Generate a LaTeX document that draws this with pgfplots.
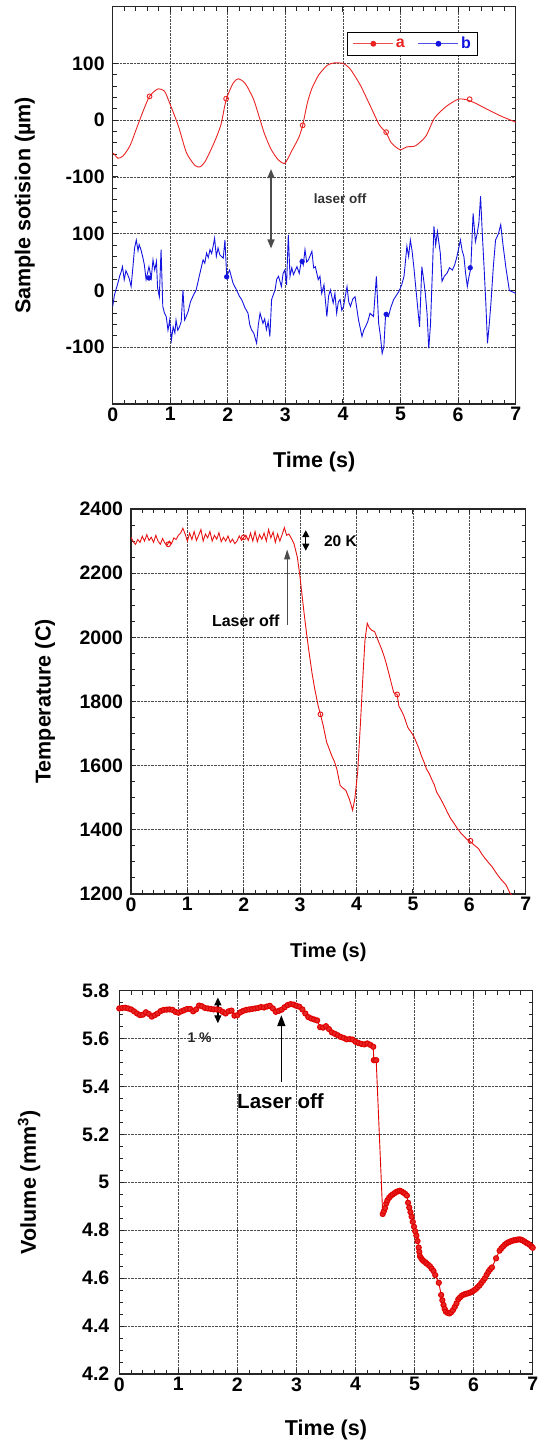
\documentclass[border=0pt]{standalone}
\usepackage{fontspec}
\setmainfont{Liberation Sans}
\usepackage{pgfplots}
\usepackage{pgfplotstable}
\pgfplotsset{compat=1.18}
\usetikzlibrary{arrows.meta}

\definecolor{cA}{RGB}{235,35,35}
\definecolor{cB}{RGB}{20,20,225}
\definecolor{cT}{RGB}{232,20,20}
\definecolor{cV}{RGB}{225,0,0}

\pgfplotsset{
  panel/.style={
    scale only axis,
    xmin=0, xmax=7, xtick={0,1,...,7}, minor x tick num=4,
    grid=major,
    major grid style={black!70, densely dotted, line width=0.7pt},
    axis line style={black!85, line width=1.2pt},
    tick style={black!85, line width=1pt},
    major tick length=5pt, minor tick length=4pt,
    /pgf/number format/assume math mode=true,
    /pgf/number format/1000 sep={},
    tick label style={font=\bfseries\fontsize{19.5}{20}\selectfont},
    yticklabel style={xshift=-4.5pt},
    label style={font=\bfseries\fontsize{21.5}{22}\selectfont},
    xlabel style={at={(axis description cs:0.5,-0.147)}, anchor=center},
    ylabel style={at={(axis description cs:-0.218,0.5)}, anchor=center},
    xlabel={Time (s)},
  },
  legend image code/.code={
    \draw[mark repeat=2,mark phase=2,#1] plot coordinates {(0pt,0pt) (20pt,0pt) (40pt,0pt)};
  },
}

\pgfplotstableread{
t b
0.00 -28
0.03 -8
0.09 13
0.12 25
0.15 34
0.17 42
0.20 19
0.23 35
0.26 28
0.29 20
0.32 7
0.35 40
0.38 75
0.41 89
0.44 70
0.46 81
0.49 72
0.52 60
0.55 45
0.58 19
0.63 42
0.67 22
0.70 54
0.73 36
0.76 51
0.78 4
0.81 -11
0.84 72
0.87 -28
0.90 -40
0.93 -46
0.96 -70
0.99 -52
1.02 -87
1.05 -64
1.08 -75
1.10 -52
1.13 -70
1.16 -64
1.19 -55
1.22 1
1.25 -52
1.28 -45
1.31 -37
1.35 -20
1.39 -11
1.45 1
1.51 28
1.57 54
1.60 48
1.63 66
1.66 58
1.69 72
1.72 65
1.77 92
1.80 60
1.83 75
1.86 63
1.92 57
1.95 89
1.98 25
2.03 36
2.09 13
2.15 1
2.20 -10
2.24 -16
2.30 -31
2.35 -40
2.38 -60
2.41 -69
2.45 -75
2.50 -93
2.53 -60
2.56 -40
2.61 -58
2.64 -50
2.67 -69
2.70 -55
2.73 -81
2.76 -16
2.82 1
2.85 20
2.88 25
2.93 7
2.96 30
2.99 36
3.02 10
3.05 98
3.08 25
3.11 40
3.14 28
3.17 35
3.20 42
3.24 30
3.28 54
3.31 45
3.34 72
3.37 50
3.40 54
3.46 69
3.49 40
3.52 42
3.57 19
3.60 25
3.63 -5
3.67 10
3.72 -46
3.75 -10
3.78 1
3.83 -22
3.86 -5
3.89 -40
3.92 -20
3.95 -16
3.98 -35
4.01 -28
4.04 -10
4.07 7
4.10 -20
4.13 -28
4.17 -15
4.21 -11
4.27 -52
4.33 -81
4.36 -70
4.39 -64
4.43 -55
4.47 -40
4.53 -46
4.58 25
4.62 -58
4.65 -80
4.68 -111
4.71 -99
4.74 -43
4.79 -46
4.83 -30
4.88 -16
4.97 -2
5.02 10
5.06 25
5.11 78
5.14 60
5.17 89
5.20 70
5.23 42
5.26 10
5.29 -22
5.33 -64
5.37 42
5.40 20
5.43 -5
5.46 -40
5.49 -102
5.52 -60
5.55 25
5.58 113
5.61 80
5.64 104
5.69 66
5.72 16
5.76 25
5.81 31
5.85 40
5.90 36
5.94 45
5.98 60
6.04 89
6.07 70
6.10 60
6.13 30
6.16 7
6.19 25
6.22 39
6.26 136
6.30 86
6.33 100
6.36 119
6.39 166
6.42 100
6.45 42
6.48 -20
6.51 -93
6.54 -60
6.57 -22
6.61 40
6.65 89
6.70 100
6.74 116
6.78 80
6.83 40
6.89 0
7.00 -5
}\dataB

\pgfplotstableread{
t b
0.63 22
1.98 24
3.29 51
4.75 -42
6.21 40
}\markB

\pgfplotstableread{
t T
0.00 2312
0.04 2298
0.08 2290
0.12 2305
0.16 2296
0.20 2315
0.24 2300
0.28 2320
0.32 2302
0.36 2312
0.40 2296
0.44 2318
0.48 2300
0.52 2290
0.56 2308
0.60 2294
0.64 2287
0.68 2300
0.72 2292
0.76 2310
0.80 2305
0.84 2318
0.88 2325
0.92 2340
0.96 2322
1.00 2300
1.04 2325
1.08 2305
1.12 2330
1.16 2302
1.20 2318
1.24 2336
1.28 2300
1.32 2322
1.36 2310
1.40 2330
1.44 2300
1.48 2318
1.52 2306
1.56 2326
1.60 2298
1.64 2312
1.68 2300
1.72 2316
1.76 2296
1.80 2306
1.84 2292
1.88 2300
1.92 2316
1.96 2302
2.00 2312
2.04 2318
2.08 2302
2.12 2325
2.16 2300
2.20 2330
2.24 2298
2.28 2320
2.32 2306
2.36 2325
2.40 2300
2.44 2336
2.48 2310
2.52 2328
2.56 2296
2.60 2322
2.64 2300
2.68 2320
2.72 2342
2.76 2318
2.80 2322
2.84 2310
2.89 2292
2.95 2250
2.99 2199
3.03 2137
3.07 2075
3.12 2003
3.16 1951
3.21 1889
3.26 1838
3.32 1786
3.36 1760
3.41 1724
3.47 1673
3.52 1650
3.56 1631
3.61 1612
3.65 1590
3.71 1538
3.76 1530
3.81 1523
3.87 1497
3.90 1480
3.93 1461
3.97 1497
4.02 1580
4.07 1734
4.11 1869
4.15 1992
4.19 2044
4.21 2036
4.23 2029
4.27 2022
4.32 2018
4.39 1987
4.45 1961
4.50 1935
4.54 1910
4.60 1869
4.66 1827
4.72 1822
4.75 1786
4.80 1770
4.84 1755
4.91 1719
4.97 1704
5.02 1690
5.06 1673
5.11 1652
5.15 1631
5.20 1610
5.24 1590
5.29 1575
5.33 1559
5.38 1540
5.42 1518
5.48 1500
5.55 1477
5.61 1455
5.67 1435
5.73 1420
5.79 1404
5.85 1390
5.91 1379
5.96 1370
6.02 1363
6.09 1352
6.16 1342
6.22 1325
6.28 1311
6.34 1298
6.40 1286
6.46 1270
6.52 1255
6.58 1242
6.65 1229
6.72 1203
6.76 1195
}\dataT

\pgfplotstableread{
t V
0.00 5.726
0.05 5.728
0.10 5.729
0.15 5.726
0.20 5.722
0.25 5.714
0.30 5.705
0.35 5.698
0.40 5.700
0.45 5.710
0.50 5.703
0.55 5.692
0.60 5.698
0.65 5.705
0.70 5.715
0.75 5.720
0.80 5.721
0.85 5.722
0.90 5.720
0.95 5.712
1.00 5.708
1.05 5.714
1.10 5.719
1.15 5.724
1.20 5.724
1.25 5.714
1.30 5.722
1.35 5.738
1.40 5.735
1.45 5.728
1.50 5.726
1.55 5.724
1.60 5.722
1.65 5.722
1.70 5.720
1.75 5.712
1.80 5.705
1.85 5.714
1.90 5.717
1.95 5.696
2.00 5.698
2.05 5.710
2.10 5.716
2.15 5.720
2.20 5.722
2.25 5.724
2.30 5.726
2.35 5.728
2.40 5.732
2.45 5.730
2.50 5.734
2.55 5.737
2.60 5.726
2.65 5.712
2.70 5.716
2.75 5.721
2.80 5.731
2.85 5.740
2.90 5.744
2.95 5.742
3.00 5.737
3.05 5.733
3.10 5.722
3.15 5.705
3.20 5.690
3.25 5.684
3.30 5.680
3.35 5.676
3.40 5.648
3.45 5.646
3.50 5.652
3.55 5.640
3.60 5.626
3.65 5.620
3.70 5.614
3.75 5.607
3.80 5.603
3.85 5.597
3.90 5.598
3.95 5.596
4.00 5.587
4.05 5.582
4.10 5.578
4.15 5.576
4.20 5.580
4.25 5.574
4.30 5.566
4.31 5.510
4.35 5.510
4.46 4.868
4.48 4.880
4.50 4.893
4.52 4.912
4.54 4.925
4.57 4.936
4.60 4.944
4.63 4.950
4.66 4.955
4.69 4.960
4.72 4.963
4.75 4.965
4.78 4.962
4.81 4.957
4.84 4.952
4.87 4.945
4.89 4.915
4.91 4.895
4.93 4.876
4.95 4.857
4.97 4.835
4.99 4.815
5.01 4.796
5.03 4.778
5.05 4.755
5.07 4.728
5.08 4.710
5.09 4.692
5.11 4.684
5.13 4.677
5.15 4.672
5.18 4.667
5.20 4.662
5.23 4.656
5.26 4.650
5.29 4.640
5.32 4.630
5.35 4.613
5.41 4.581
5.45 4.530
5.47 4.508
5.49 4.488
5.51 4.472
5.53 4.460
5.56 4.455
5.59 4.453
5.62 4.458
5.65 4.467
5.68 4.480
5.71 4.495
5.74 4.512
5.77 4.520
5.80 4.527
5.83 4.531
5.86 4.534
5.89 4.536
5.92 4.538
5.95 4.541
5.98 4.545
6.01 4.550
6.04 4.555
6.07 4.563
6.10 4.570
6.13 4.580
6.16 4.590
6.19 4.600
6.22 4.614
6.25 4.627
6.28 4.637
6.31 4.645
6.38 4.683
6.44 4.715
6.47 4.725
6.50 4.733
6.53 4.740
6.56 4.746
6.59 4.750
6.62 4.753
6.65 4.756
6.68 4.758
6.71 4.759
6.74 4.761
6.77 4.762
6.80 4.761
6.83 4.758
6.86 4.753
6.89 4.748
6.92 4.744
6.95 4.739
6.98 4.732
7.00 4.727
}\dataV

\begin{document}
\begin{tikzpicture}
\path[use as bounding box] (0pt,0pt) rectangle (539pt,-1443pt);

% ---- panel 1: sample position, b shifted down by 300
\begin{axis}[panel,
  at={(112.7pt,-404pt)}, anchor=south west,
  width=403pt, height=397.3pt,
  ymin=-500, ymax=200,
  ytick={-400,-300,-200,-100,0,100},
  yticklabels={-100,0,100,-100,0,100},
  minor y tick num=4,
  ylabel={Sample sotision (µm)},
  legend style={at={(rel axis cs:0.582,0.937)}, anchor=north west,
    draw=black, line width=1pt, fill=white, inner xsep=5pt, inner ysep=3pt,
    font=\bfseries\fontsize{16}{16}\selectfont, legend columns=2,
    /tikz/every even column/.append style={column sep=11pt}},
]
\addlegendimage{cA!80, line width=1.2pt, mark=*, mark size=2.3pt, mark options={solid, fill=cA, draw=cA}}
\addlegendentry{\textcolor{cA}{a}}
\addlegendimage{cB!75, line width=1.2pt, mark=*, mark size=2.3pt, mark options={solid, fill=cB, draw=cB}}
\addlegendentry{\textcolor{cB}{b}}

\addplot[cA, line width=0.9pt, smooth, tension=0.4, forget plot] coordinates {
(0.00,-58) (0.03,-60) (0.09,-67) (0.18,-63) (0.30,-45) (0.42,-13) (0.54,19)
(0.64,42) (0.78,55) (0.90,51) (0.99,30) (1.14,-10) (1.28,-57) (1.43,-80)
(1.52,-82) (1.61,-72) (1.76,-40) (1.88,-8) (1.97,36) (2.09,65) (2.18,73)
(2.30,65) (2.45,36) (2.63,-22) (2.75,-51) (2.87,-69) (2.99,-76) (3.11,-54)
(3.23,-31) (3.30,-9) (3.38,30) (3.46,56) (3.58,80) (3.73,97) (3.85,101)
(4.00,100) (4.12,91) (4.30,62) (4.48,24) (4.63,-8) (4.75,-22) (4.84,-40)
(4.99,-52) (5.11,-47) (5.26,-45) (5.44,-28) (5.59,4) (5.79,24) (6.00,37)
(6.15,36) (6.30,30) (6.51,19) (6.75,7) (6.99,-3) (7.00,-4)
};
\addplot[only marks, mark=o, mark size=2.4pt, cA, line width=0.9pt, forget plot] coordinates {
(0.64,42) (1.97,38) (3.30,-9) (4.75,-21) (6.20,37)
};
\addplot[cB, line width=0.9pt, forget plot] table[x=t, y expr=\thisrow{b}-300] {\dataB};
\addplot[only marks, mark=*, mark size=2.4pt, cB, forget plot] table[x=t, y expr=\thisrow{b}-300] {\markB};
\draw[{Triangle[width=7pt,length=9pt]}-{Triangle[width=7pt,length=9pt]}, black!70, line width=1.5pt]
  (axis cs:2.75,-86) -- (axis cs:2.75,-226);
\node[font=\bfseries\fontsize{13.5}{14}\selectfont, text=black!80] at (axis cs:3.95,-137.6) {laser off};
\end{axis}

% ---- panel 2: temperature
\begin{axis}[panel,
  at={(131pt,-894pt)}, anchor=south west,
  width=394.7pt, height=385pt,
  ymin=1200, ymax=2400,
  ytick={1200,1400,...,2400},
  minor y tick num=3,
  ylabel={Temperature (C)},
  xlabel style={font=\bfseries\fontsize{20}{21}\selectfont, at={(axis description cs:0.5,-0.151)}},
]
\addplot[cT, line width=0.9pt] table[x=t, y=T] {\dataT};
\addplot[only marks, mark=o, mark size=2.4pt, cT, line width=0.9pt] coordinates {
(0.66,2290) (2.00,2312) (3.36,1760) (4.72,1822) (6.02,1366)
};
\draw[-{Triangle[width=6pt,length=10pt]}, black!70, line width=1.3pt]
  (axis cs:2.77,2038) -- (axis cs:2.77,2274);
\node[font=\bfseries\fontsize{16}{17}\selectfont] at (axis cs:2.036,2052) {Laser off};
\draw[{Triangle[width=7pt,length=7pt]}-{Triangle[width=7pt,length=7pt]}, black, line width=1.3pt]
  (axis cs:3.10,2334) -- (axis cs:3.10,2270);
\node[font=\bfseries\fontsize{15.5}{16}\selectfont, anchor=west, inner sep=0pt] at (axis cs:3.42,2301) {20 K};
\end{axis}

% ---- panel 3: volume
\begin{axis}[panel,
  at={(119.3pt,-1374pt)}, anchor=south west,
  width=413.4pt, height=383.3pt,
  ymin=4.2, ymax=5.8,
  ytick={4.2,4.4,4.6,4.8,5,5.2,5.4,5.6,5.8},
  minor y tick num=3,
  yticklabel style={xshift=-2pt},
  ylabel={Volume (mm\textsuperscript{3})},
  xlabel style={at={(axis description cs:0.5,-0.146)}},
]
\addplot[cV, line width=0.9pt, mark=*, mark size=2.6pt, mark options={fill=cV!85!white, draw=cV, line width=1pt}] table[x=t, y=V] {\dataV};
\draw[-{Triangle[width=8pt,length=11pt]}, black, line width=1.6pt]
  (axis cs:2.744,5.42) -- (axis cs:2.744,5.698);
\node[font=\bfseries\fontsize{20.5}{21}\selectfont] at (axis cs:2.73,5.337) {Laser off};
\draw[{Triangle[width=7pt,length=8pt]}-{Triangle[width=7pt,length=8pt]}, black, line width=1.3pt]
  (axis cs:1.669,5.772) -- (axis cs:1.669,5.664);
\node[font=\bfseries\fontsize{14}{15}\selectfont, text=black!85] at (axis cs:1.36,5.604) {1 \%};
\end{axis}
\end{tikzpicture}
\end{document}
